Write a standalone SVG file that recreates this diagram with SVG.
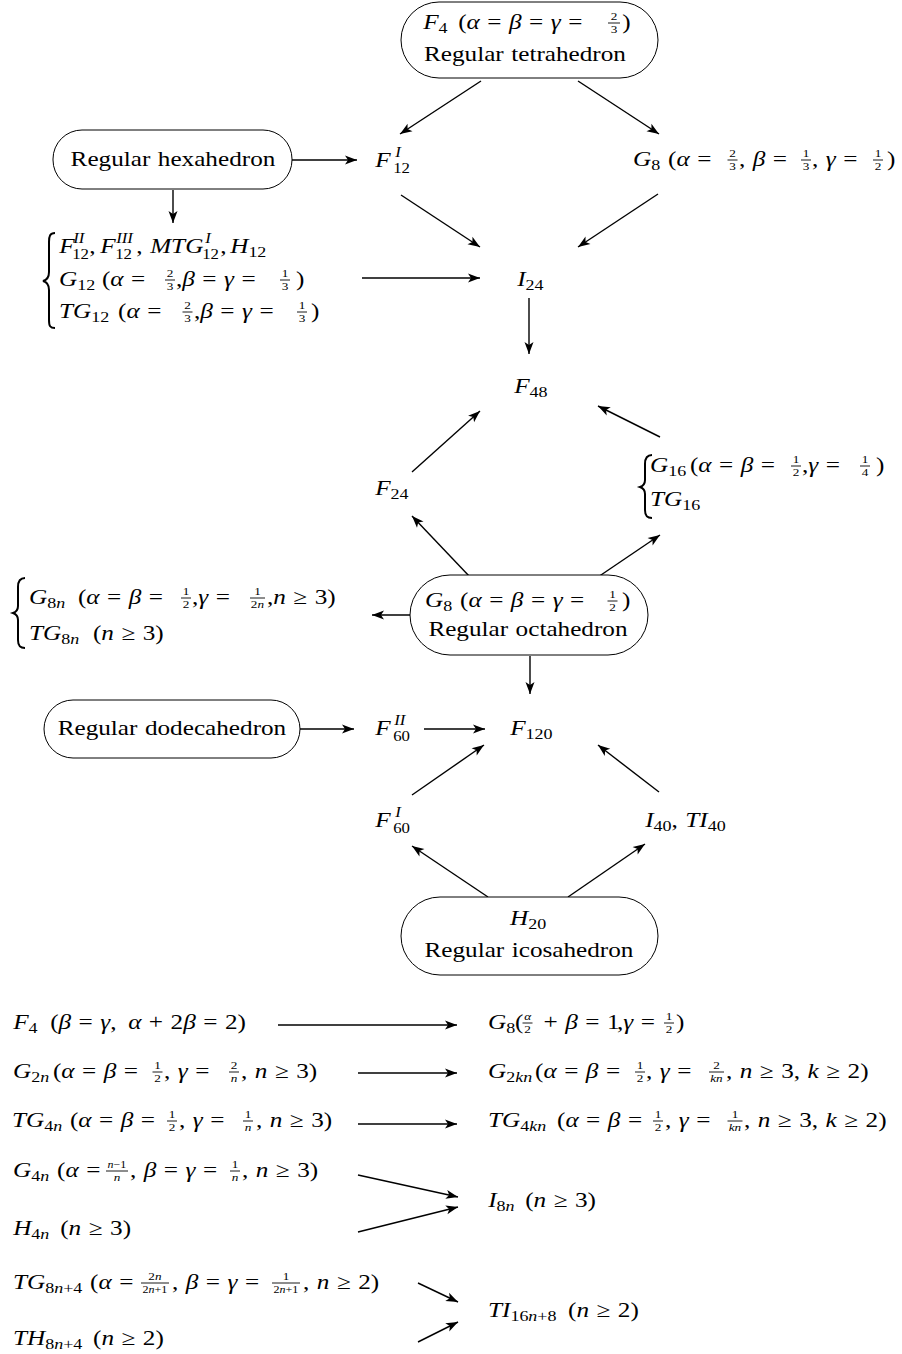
<svg xmlns="http://www.w3.org/2000/svg" width="902" height="1354" viewBox="0 0 902 1354">
<defs>
<style>
text{font-family:"Liberation Serif","Times New Roman",serif;fill:#000}
.t{font-size:21px;word-spacing:1px;transform-box:fill-box;transform-origin:0 0;transform:scaleX(1.2)}
.c{font-size:21px;text-anchor:middle;word-spacing:1px;transform-box:fill-box;transform-origin:50% 50%;transform:scaleX(1.2)}
.i{font-style:italic}
.s{font-size:15px}
.s2{font-size:14px}
.n{font-size:11px;font-style:normal}
.n2{font-size:10px;font-style:normal}
.fb{stroke:#000;stroke-width:0.9}
.node{fill:#fff;stroke:#000;stroke-width:1}
.br{fill:none;stroke:#000;stroke-width:2}
.e{fill:none;stroke:#000;stroke-width:1.4;marker-end:url(#ah)}
</style>
<marker id="ah" viewBox="-13 -5 14 10" refX="0" refY="0" markerWidth="14" markerHeight="10" markerUnits="userSpaceOnUse" orient="auto"><path d="M0,0 L-12,-4.5 L-9,0 L-12,4.5 Z" fill="#000"/></marker>
</defs>
<rect width="902" height="1354" fill="#fff"/>

<g id="connectors">
<path class="e" d="M481,81 L400,134"/>
<path class="e" d="M578,81 L659,134"/>
<path class="e" d="M292,160 L357,160"/>
<path class="e" d="M173,190 L173,223"/>
<path class="e" d="M401,195 L480,247"/>
<path class="e" d="M658,194 L578,247"/>
<path class="e" d="M362,278 L480,278"/>
<path class="e" d="M529,298 L529,354"/>
<path class="e" d="M412,472 L480,411"/>
<path class="e" d="M660,437 L598,406"/>
<path class="e" d="M470,577 L412,516"/>
<path class="e" d="M598,577 L660,535"/>
<path class="e" d="M410,615 L372,615"/>
<path class="e" d="M530,656 L530,694"/>
<path class="e" d="M300,729 L354,729"/>
<path class="e" d="M424,729 L485,729"/>
<path class="e" d="M412,795 L484,745"/>
<path class="e" d="M659,792 L598,745"/>
<path class="e" d="M488,897 L412,846"/>
<path class="e" d="M568,897 L645,844"/>
<path class="e" d="M278,1025 L457,1025"/>
<path class="e" d="M358,1073 L457,1073"/>
<path class="e" d="M358,1124 L457,1124"/>
<path class="e" d="M358,1175 L458,1197"/>
<path class="e" d="M358,1232 L458,1207"/>
<path class="e" d="M418,1283 L458,1302"/>
<path class="e" d="M418,1342 L458,1322"/>
</g>

<g id="tetrahedron">
<rect class="node" x="401" y="2" width="257" height="76" rx="38"/>
<text class="t" x="423" y="29"><tspan class="i">F</tspan><tspan class="s" dy="4">4</tspan><tspan x="452.2" y="29">(<tspan class="i">α</tspan> = <tspan class="i">β</tspan> = <tspan class="i">γ</tspan> =</tspan><tspan class="n" x="579.4" y="20.5">2</tspan><tspan class="n" x="579.4" y="33">3</tspan><tspan x="588.8" y="29">)</tspan></text>
<line class="fb" x1="608" y1="23" x2="620" y2="23"/>
<text class="c" x="525" y="61">Regular tetrahedron</text>
</g>

<g id="hexahedron">
<rect class="node" x="53" y="130" width="239" height="59" rx="29"/>
<text class="c" x="173" y="166">Regular hexahedron</text>
</g>

<g id="F12I">
<text class="t" x="375" y="167"><tspan class="i">F</tspan><tspan class="s2 i" x="391.7" y="157.5">I</tspan><tspan class="s2" x="390" y="173.5">12</tspan></text>
</g>

<g id="G8a">
<text class="t" x="633" y="166"><tspan class="i">G</tspan><tspan class="s" dy="4">8</tspan><tspan x="662.2" y="166">(<tspan class="i">α</tspan> =</tspan><tspan class="n" x="713.2" y="157.5">2</tspan><tspan class="n" x="713.2" y="170">3</tspan><tspan x="721.3" y="166">, <tspan class="i">β</tspan> =</tspan><tspan class="n" x="774.4" y="157.5">1</tspan><tspan class="n" x="774.4" y="170">3</tspan><tspan x="782.2" y="166">, <tspan class="i">γ</tspan> =</tspan><tspan class="n" x="834.4" y="157.5">1</tspan><tspan class="n" x="834.4" y="170">2</tspan><tspan x="844.7" y="166">)</tspan></text>
<line class="fb" x1="727.5" y1="160" x2="737.5" y2="160"/><line class="fb" x1="801" y1="160" x2="811" y2="160"/><line class="fb" x1="873" y1="160" x2="883" y2="160"/>
</g>

<g id="hexa-family">
<path class="br" d="M55,233 C50,233 49,236 49,242 L49,272 C49,277 47,280 43,281 C47,282 49,285 49,290 L49,320 C49,326 50,328 55,328"/>
<text class="t" x="59" y="253"><tspan class="i">F</tspan><tspan class="s2 i" x="70.7" y="243.5">II</tspan><tspan class="s2" x="69.8" y="259.5">12</tspan><tspan x="84" y="253">,</tspan><tspan class="i" x="93.2" y="253">F</tspan><tspan class="s2 i" x="106.5" y="243.5">III</tspan><tspan class="s2" x="105.7" y="259.5">12</tspan><tspan x="123.2" y="253">,</tspan><tspan class="i" x="134.8" y="253">MTG</tspan><tspan class="s2 i" x="180.7" y="243.5">I</tspan><tspan class="s2" x="178.2" y="259.5">12</tspan><tspan x="193.2" y="253">,</tspan><tspan class="i" x="201.5" y="253">H</tspan><tspan class="s" y="257">12</tspan></text>
<text class="t" x="59" y="286"><tspan class="i">G</tspan><tspan class="s" dy="4">12</tspan><tspan x="94.8" y="286">(<tspan class="i">α</tspan> =</tspan><tspan class="n" x="148.75" y="277.5">2</tspan><tspan class="n" x="148.75" y="290">3</tspan><tspan x="156.5" y="286">,<tspan class="i">β</tspan> = <tspan class="i">γ</tspan> =</tspan><tspan class="n" x="244.6" y="277.5">1</tspan><tspan class="n" x="244.6" y="290">3</tspan><tspan x="256.5" y="286">)</tspan></text>
<line class="fb" x1="165" y1="280" x2="175" y2="280"/><line class="fb" x1="280" y1="280" x2="290" y2="280"/>
<text class="t" x="59" y="318"><tspan class="i">TG</tspan><tspan class="s" dy="4">12</tspan><tspan x="108.2" y="318">(<tspan class="i">α</tspan> =</tspan><tspan class="n" x="163.3" y="309.5">2</tspan><tspan class="n" x="163.3" y="322">3</tspan><tspan x="171.5" y="318">,<tspan class="i">β</tspan> = <tspan class="i">γ</tspan> =</tspan><tspan class="n" x="258.75" y="309.5">1</tspan><tspan class="n" x="258.75" y="322">3</tspan><tspan x="269" y="318">)</tspan></text>
<line class="fb" x1="182.5" y1="312" x2="192.5" y2="312"/><line class="fb" x1="297" y1="312" x2="307" y2="312"/>
</g>

<g id="I24"><text class="t" x="517" y="286"><tspan class="i">I</tspan><tspan class="s" dy="4">24</tspan></text></g>
<g id="F48"><text class="t" x="514" y="393"><tspan class="i">F</tspan><tspan class="s" dy="4">48</tspan></text></g>
<g id="F24"><text class="t" x="375" y="495"><tspan class="i">F</tspan><tspan class="s" dy="4">24</tspan></text></g>

<g id="G16">
<path class="br" d="M652,455 C647,455 645,458 645,464 L645,480 C645,484 643,486 640,487 C643,488 645,490 645,494 L645,510 C645,516 647,518 652,518"/>
<text class="t" x="650" y="472"><tspan class="i">G</tspan><tspan class="s" dy="4">16</tspan><tspan x="683.3" y="472">(<tspan class="i">α</tspan> = <tspan class="i">β</tspan> =</tspan><tspan class="n" x="768.9" y="463.5">1</tspan><tspan class="n" x="768.9" y="476">2</tspan><tspan x="776.7" y="472">,<tspan class="i">γ</tspan> =</tspan><tspan class="n" x="826.4" y="463.5">1</tspan><tspan class="n" x="826.4" y="476">4</tspan><tspan x="838.3" y="472">)</tspan></text>
<line class="fb" x1="791" y1="466" x2="801" y2="466"/><line class="fb" x1="860" y1="466" x2="870" y2="466"/>
<text class="t" x="650" y="506"><tspan class="i">TG</tspan><tspan class="s" dy="4">16</tspan></text>
</g>

<g id="octahedron">
<rect class="node" x="410" y="575" width="238" height="80" rx="40"/>
<text class="t" x="425" y="607"><tspan class="i">G</tspan><tspan class="s" dy="4">8</tspan><tspan x="454.2" y="607">(<tspan class="i">α</tspan> = <tspan class="i">β</tspan> = <tspan class="i">γ</tspan> =</tspan><tspan class="n" x="578.5" y="598.5">1</tspan><tspan class="n" x="578.5" y="611">2</tspan><tspan x="589.2" y="607">)</tspan></text>
<line class="fb" x1="607.5" y1="601" x2="617.5" y2="601"/>
<text class="c" x="528" y="636">Regular octahedron</text>
</g>

<g id="G8n">
<path class="br" d="M25,578 C20,578 18,581 18,587 L18,606 C18,610 16,612 13,613 C16,614 18,616 18,620 L18,640 C18,646 20,648 25,648"/>
<text class="t" x="29" y="604"><tspan class="i">G</tspan><tspan class="s" dy="4">8<tspan class="i">n</tspan></tspan><tspan x="69.8" y="604">(<tspan class="i">α</tspan> = <tspan class="i">β</tspan> =</tspan><tspan class="n" x="157.1" y="595.5">1</tspan><tspan class="n" x="157.1" y="608">2</tspan><tspan x="164.8" y="604">,<tspan class="i">γ</tspan> =</tspan><tspan class="n" x="216.7" y="595.5">1</tspan><tspan class="n" x="213.9" y="608">2<tspan class="i">n</tspan></tspan><tspan x="227.3" y="604">,<tspan class="i">n</tspan> ≥ 3)</tspan></text>
<line class="fb" x1="181" y1="598" x2="191" y2="598"/><line class="fb" x1="250" y1="598" x2="265" y2="598"/>
<text class="t" x="29" y="640"><tspan class="i">TG</tspan><tspan class="s" dy="4">8<tspan class="i">n</tspan></tspan><tspan x="82.3" y="640">(<tspan class="i">n</tspan> ≥ 3)</tspan></text>
</g>

<g id="dodecahedron">
<rect class="node" x="44" y="700" width="256" height="58" rx="29"/>
<text class="c" x="172" y="735">Regular dodecahedron</text>
</g>

<g id="F60II"><text class="t" x="375" y="735"><tspan class="i">F</tspan><tspan class="s2 i" x="390.8" y="725.5">II</tspan><tspan class="s2" x="390" y="741.5">60</tspan></text></g>
<g id="F120"><text class="t" x="510" y="735"><tspan class="i">F</tspan><tspan class="s" dy="4">120</tspan></text></g>
<g id="F60I"><text class="t" x="375" y="827"><tspan class="i">F</tspan><tspan class="s2 i" x="391.7" y="817.5">I</tspan><tspan class="s2" x="390" y="833.5">60</tspan></text></g>
<g id="I40"><text class="t" x="645" y="827"><tspan class="i">I</tspan><tspan class="s" dy="4">40</tspan><tspan dy="-4">, </tspan><tspan class="i">TI</tspan><tspan class="s" dy="4">40</tspan></text></g>

<g id="icosahedron">
<rect class="node" x="401" y="897" width="257" height="78" rx="39"/>
<text class="c" x="528" y="925"><tspan class="i">H</tspan><tspan class="s" dy="4">20</tspan></text>
<text class="c" x="529" y="957">Regular icosahedron</text>
</g>

<g id="row1-left">
<text class="t" x="13" y="1029"><tspan class="i">F</tspan><tspan class="s" dy="4">4</tspan><tspan x="43.8" y="1029">(<tspan class="i">β</tspan> = <tspan class="i">γ</tspan>,</tspan><tspan x="108.8" y="1029"><tspan class="i">α</tspan> + 2<tspan class="i">β</tspan> = 2)</tspan></text>
</g>
<g id="row1-right">
<text class="t" x="488" y="1029"><tspan class="i">G</tspan><tspan class="s" dy="4">8</tspan><tspan x="510.5" y="1029">(</tspan><tspan class="n" x="518.2" y="1020.5" style="font-style:italic">α</tspan><tspan class="n" x="518.2" y="1033">2</tspan><tspan x="528" y="1029"> + <tspan class="i">β</tspan> = 1</tspan><tspan x="595.5" y="1029">,<tspan class="i">γ</tspan> =</tspan><tspan class="n" x="636.1" y="1020.5">1</tspan><tspan class="n" x="636.1" y="1033">2</tspan><tspan x="644.7" y="1029">)</tspan></text>
<line class="fb" x1="522.5" y1="1023" x2="532.5" y2="1023"/><line class="fb" x1="664" y1="1023" x2="674" y2="1023"/>
</g>

<g id="row2-left">
<text class="t" x="13" y="1078"><tspan class="i">G</tspan><tspan class="s" dy="4">2<tspan class="i">n</tspan></tspan><tspan x="46.3" y="1078">(<tspan class="i">α</tspan> = <tspan class="i">β</tspan> =</tspan><tspan class="n" x="130.7" y="1069.5">1</tspan><tspan class="n" x="130.7" y="1082">2</tspan><tspan x="138.8" y="1078">, <tspan class="i">γ</tspan> =</tspan><tspan class="n" x="194.4" y="1069.5">2</tspan><tspan class="n" x="194.4" y="1082" style="font-style:italic">n</tspan><tspan x="203" y="1078">, <tspan class="i">n</tspan> ≥ 3)</tspan></text>
<line class="fb" x1="152.5" y1="1072" x2="162.5" y2="1072"/><line class="fb" x1="229" y1="1072" x2="239" y2="1072"/>
</g>
<g id="row2-right">
<text class="t" x="488" y="1078"><tspan class="i">G</tspan><tspan class="s" dy="4">2<tspan class="i">kn</tspan></tspan><tspan x="527.2" y="1078">(<tspan class="i">α</tspan> = <tspan class="i">β</tspan> =</tspan><tspan class="n" x="611.9" y="1069.5">1</tspan><tspan class="n" x="611.9" y="1082">2</tspan><tspan x="619.7" y="1078">, <tspan class="i">γ</tspan> =</tspan><tspan class="n" x="675.7" y="1069.5">2</tspan><tspan class="n" x="673.2" y="1082" style="font-style:italic">kn</tspan><tspan x="686.3" y="1078">, <tspan class="i">n</tspan> ≥ 3, <tspan class="i">k</tspan> ≥ 2)</tspan></text>
<line class="fb" x1="635" y1="1072" x2="645" y2="1072"/><line class="fb" x1="709" y1="1072" x2="724" y2="1072"/>
</g>

<g id="row3-left">
<text class="t" x="12" y="1127"><tspan class="i">TG</tspan><tspan class="s" dy="4">4<tspan class="i">n</tspan></tspan><tspan x="60.3" y="1127">(<tspan class="i">α</tspan> = <tspan class="i">β</tspan> =</tspan><tspan class="n" x="142.6" y="1118.5">1</tspan><tspan class="n" x="142.6" y="1131">2</tspan><tspan x="151.2" y="1127">, <tspan class="i">γ</tspan> =</tspan><tspan class="n" x="205.9" y="1118.5">1</tspan><tspan class="n" x="205.9" y="1131" style="font-style:italic">n</tspan><tspan x="215.3" y="1127">, <tspan class="i">n</tspan> ≥ 3)</tspan></text>
<line class="fb" x1="167" y1="1121" x2="177" y2="1121"/><line class="fb" x1="243" y1="1121" x2="253" y2="1121"/>
</g>
<g id="row3-right">
<text class="t" x="488" y="1127"><tspan class="i">TG</tspan><tspan class="s" dy="4">4<tspan class="i">kn</tspan></tspan><tspan x="545.5" y="1127">(<tspan class="i">α</tspan> = <tspan class="i">β</tspan> =</tspan><tspan class="n" x="626.9" y="1118.5">1</tspan><tspan class="n" x="626.9" y="1131">2</tspan><tspan x="635.5" y="1127">, <tspan class="i">γ</tspan> =</tspan><tspan class="n" x="691.1" y="1118.5">1</tspan><tspan class="n" x="688.6" y="1131" style="font-style:italic">kn</tspan><tspan x="701.3" y="1127">, <tspan class="i">n</tspan> ≥ 3, <tspan class="i">k</tspan> ≥ 2)</tspan></text>
<line class="fb" x1="653" y1="1121" x2="663" y2="1121"/><line class="fb" x1="727.5" y1="1121" x2="742.5" y2="1121"/>
</g>

<g id="row4">
<text class="t" x="13" y="1177"><tspan class="i">G</tspan><tspan class="s" dy="4">4<tspan class="i">n</tspan></tspan><tspan x="49.7" y="1177">(<tspan class="i">α</tspan> =</tspan><tspan class="n2" x="91.8" y="1168.5"><tspan class="i">n</tspan>−1</tspan><tspan class="n" x="96.9" y="1181" style="font-style:italic">n</tspan><tspan x="110.5" y="1177">, <tspan class="i">β</tspan> = <tspan class="i">γ</tspan> =</tspan><tspan class="n" x="195.25" y="1168.5">1</tspan><tspan class="n" x="195.25" y="1181" style="font-style:italic">n</tspan><tspan x="203.8" y="1177">, <tspan class="i">n</tspan> ≥ 3)</tspan></text>
<line class="fb" x1="106" y1="1171" x2="128" y2="1171"/><line class="fb" x1="230" y1="1171" x2="240" y2="1171"/>
</g>
<g id="H4n"><text class="t" x="13" y="1235"><tspan class="i">H</tspan><tspan class="s" dy="4">4<tspan class="i">n</tspan></tspan><tspan x="52.2" y="1235">(<tspan class="i">n</tspan> ≥ 3)</tspan></text></g>
<g id="I8n"><text class="t" x="488" y="1207"><tspan class="i">I</tspan><tspan class="s" dy="4">8<tspan class="i">n</tspan></tspan><tspan x="518.8" y="1207">(<tspan class="i">n</tspan> ≥ 3)</tspan></text></g>

<g id="row5">
<text class="t" x="13" y="1289"><tspan class="i">TG</tspan><tspan class="s" dy="4">8<tspan class="i">n</tspan>+4</tspan><tspan x="77.2" y="1289">(<tspan class="i">α</tspan> =</tspan><tspan class="n" x="125.8" y="1280.5">2<tspan class="i">n</tspan></tspan><tspan class="n2" x="121" y="1293">2<tspan class="i">n</tspan>+1</tspan><tspan x="145.5" y="1289">, <tspan class="i">β</tspan> = <tspan class="i">γ</tspan> =</tspan><tspan class="n" x="237.75" y="1280.5">1</tspan><tspan class="n2" x="230.2" y="1293">2<tspan class="i">n</tspan>+1</tspan><tspan x="254.7" y="1289">, <tspan class="i">n</tspan> ≥ 2)</tspan></text>
<line class="fb" x1="141" y1="1283" x2="169" y2="1283"/><line class="fb" x1="272" y1="1283" x2="300" y2="1283"/>
</g>
<g id="TH8n4"><text class="t" x="13" y="1345"><tspan class="i">TH</tspan><tspan class="s" dy="4">8<tspan class="i">n</tspan>+4</tspan><tspan x="79.7" y="1345">(<tspan class="i">n</tspan> ≥ 2)</tspan></text></g>
<g id="TI16n8"><text class="t" x="488" y="1317"><tspan class="i">TI</tspan><tspan class="s" dy="4">16<tspan class="i">n</tspan>+8</tspan><tspan x="554.7" y="1317">(<tspan class="i">n</tspan> ≥ 2)</tspan></text></g>
</svg>
